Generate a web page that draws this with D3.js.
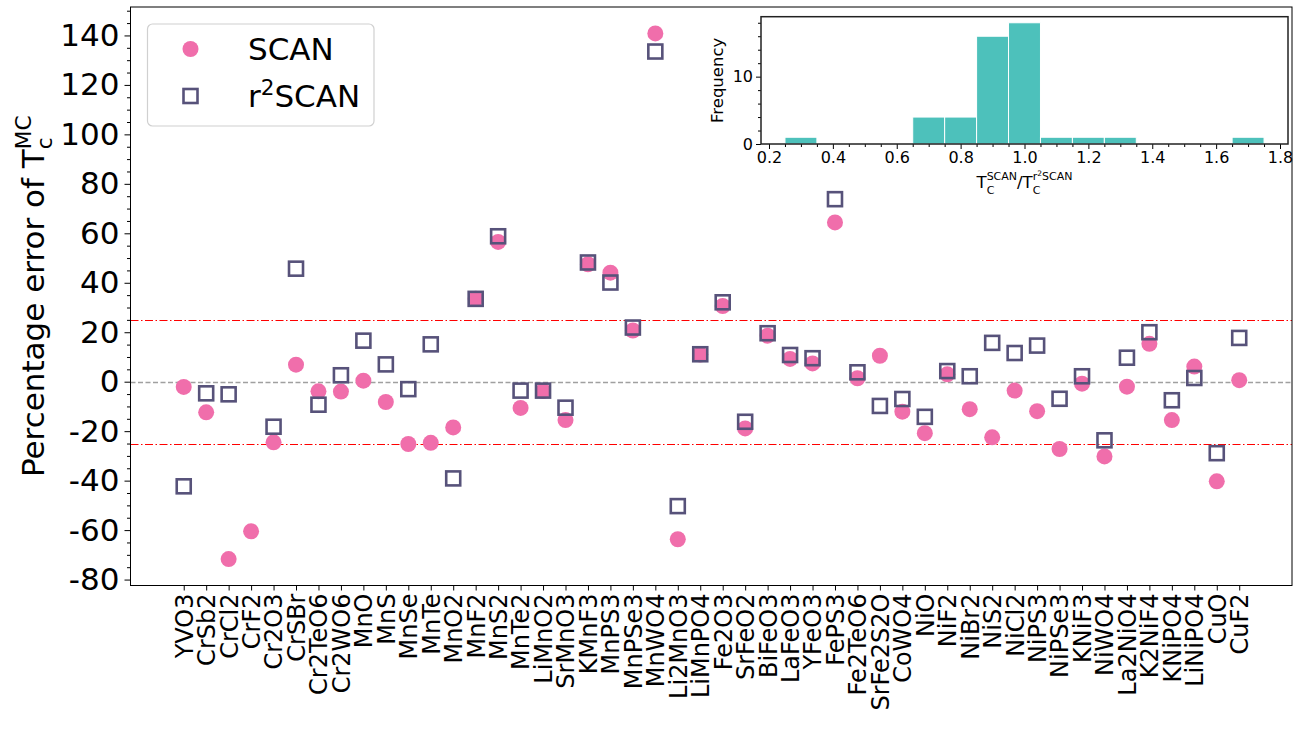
<!DOCTYPE html>
<html>
<head>
<meta charset="utf-8">
<script src="https://cdn.jsdelivr.net/npm/d3@7"></script>
<style>
  html, body { margin: 0; padding: 0; background: #fff; }
  svg { display: block; font-family: "DejaVu Sans", sans-serif; }
</style>
</head>
<body>
<svg id="chart" width="1306" height="733"></svg>
<script>
// ---------------- data ----------------
const categories = ["YVO3","CrSb2","CrCl2","CrF2","Cr2O3","CrSBr","Cr2TeO6","Cr2WO6","MnO","MnS","MnSe","MnTe",
  "MnO2","MnF2","MnS2","MnTe2","LiMnO2","SrMnO3","KMnF3","MnPS3","MnPSe3","MnWO4","Li2MnO3","LiMnPO4",
  "Fe2O3","SrFeO2","BiFeO3","LaFeO3","YFeO3","FePS3","Fe2TeO6","SrFe2S2O","CoWO4","NiO","NiF2","NiBr2",
  "NiS2","NiCl2","NiPS3","NiPSe3","KNiF3","NiWO4","La2NiO4","K2NiF4","KNiPO4","LiNiPO4","CuO","CuF2"];
const scanErr = [-2.1,-12.4,-71.7,-60.5,-24.5,6.9,-3.9,-4.0,0.4,-8.2,-25.2,-24.7,
  -18.5,33.5,56.5,-10.6,-3.8,-15.5,47.5,44.1,20.7,140.8,-63.7,11.0,
  30.6,-18.9,18.6,9.2,7.4,64.4,1.4,10.5,-12.1,-20.8,3.0,-11.1,
  -22.5,-3.6,-11.9,-27.2,-0.8,-30.2,-2.0,15.3,-15.5,6.1,-40.3,0.6];
const r2scanErr = [-42.3,-4.7,-5.1,null,-18.2,45.7,-9.3,2.6,16.6,7.0,-3.0,15.1,
  -39.1,33.5,58.8,-3.6,-3.6,-10.5,48.2,40.1,21.9,133.5,-50.3,11.1,
  32.1,-16.2,19.6,10.8,9.5,73.8,3.8,-9.8,-7.0,-14.2,4.3,2.2,
  15.7,11.6,14.6,-6.9,2.2,-23.7,9.7,20.0,-7.5,1.5,-28.9,17.7];
const yTicks = [-80,-60,-40,-20,0,20,40,60,80,100,120,140];
const thresholds = [25, -25];
// inset histogram of T_C(SCAN)/T_C(r2SCAN)
const histBinStart = [0.25,0.35,0.45,0.55,0.65,0.75,0.85,0.95,1.05,1.15,1.25,1.35,1.45,1.55,1.65];
const histCounts   = [1,0,0,0,4,4,16,18,1,1,1,0,0,0,1];
const histBinWidth = 0.1;
const insetXTicks = [0.2,0.4,0.6,0.8,1.0,1.2,1.4,1.6,1.8];
const insetYTicks = [0,10];

// ---------------- layout ----------------
const FONT = "DejaVu Sans";
const svg = d3.select("#chart");
const M = {left: 130.5, right: 1292, top: 7, bottom: 585.5};
const pinkColor = "#f06eab";
const squareColor = "#57527a";

const x = d3.scaleLinear().domain([-2.37, categories.length - 1 + 2.35]).range([M.left, M.right]);
const y = d3.scaleLinear().domain([-82.4, 151.5]).range([M.bottom, M.top]);

// reference lines
const g = svg.append("g");
g.append("line").attr("x1", M.left).attr("x2", M.right).attr("y1", Math.round(y(0)) + 0.5).attr("y2", Math.round(y(0)) + 0.5)
  .attr("stroke", "#a0a0a0").attr("stroke-width", 1.4).attr("stroke-dasharray", "5,2.5");
g.selectAll("line.thr").data(thresholds).join("line").attr("class","thr")
  .attr("x1", M.left).attr("x2", M.right)
  .attr("y1", d => Math.round(y(d)) + 0.5).attr("y2", d => Math.round(y(d)) + 0.5)
  .attr("stroke", "red").attr("stroke-width", 1.2).attr("stroke-dasharray", "8,2.5,1.5,2.5");

// circles (SCAN)
g.selectAll("circle.scan").data(scanErr.map((v,i)=>({v,i}))).join("circle").attr("class","scan")
  .attr("cx", d => x(d.i)).attr("cy", d => y(d.v)).attr("r", 8).attr("fill", pinkColor);
// squares (r2SCAN)
const sq = 14;
g.selectAll("rect.r2").data(r2scanErr.map((v,i)=>({v,i})).filter(d => d.v !== null)).join("rect").attr("class","r2")
  .attr("x", d => x(d.i) - sq/2).attr("y", d => y(d.v) - sq/2).attr("width", sq).attr("height", sq)
  .attr("fill", "none").attr("stroke", squareColor).attr("stroke-width", 2.6);

// axes
const xAxis = d3.axisBottom(x).tickValues(d3.range(categories.length)).tickFormat(i => categories[i]).tickSize(5).tickSizeOuter(0);
const gx = svg.append("g").attr("transform", `translate(0,${M.bottom})`).call(xAxis).attr("font-family", FONT);
gx.select(".domain").remove();
gx.selectAll(".tick line").attr("stroke", "#000").attr("stroke-width", 1);
gx.selectAll(".tick text").attr("font-size", 24).attr("fill", "#000")
  .attr("text-anchor", "end").attr("transform", "rotate(-90)")
  .attr("x", -8).attr("y", 0).attr("dy", "0.35em");

const yMinor = d3.range(-80, 151, 5).filter(v => v % 20 !== 0);
const gyMinor = svg.append("g").attr("transform", `translate(${M.left},0)`)
  .call(d3.axisLeft(y).tickValues(yMinor).tickSize(3.5).tickFormat(""));
gyMinor.select(".domain").remove();
gyMinor.selectAll(".tick line").attr("stroke", "#000");
const gy = svg.append("g").attr("transform", `translate(${M.left},0)`)
  .call(d3.axisLeft(y).tickValues(yTicks).tickSize(6).tickPadding(5).tickFormat(d => d < 0 ? "-" + Math.abs(d) : d))
  .attr("font-family", FONT);
gy.select(".domain").remove();
gy.selectAll(".tick line").attr("stroke", "#000");
gy.selectAll(".tick text").attr("font-size", 31).attr("fill", "#000");

// frame
svg.append("rect").attr("x", M.left).attr("y", M.top).attr("width", M.right - M.left).attr("height", M.bottom - M.top)
  .attr("fill", "none").attr("stroke", "#000").attr("stroke-width", 1);

// helper for stacked sub/superscript (tspans)
function stacked(textSel, base, sub, sup, fs, ratio) {
  const sfs = fs * ratio;
  if (base) textSel.append("tspan").text(base);
  const ts = textSel.append("tspan").attr("font-size", sfs).attr("dy", fs * 0.25).text(sub);
  const w = ts.node().getComputedTextLength();
  textSel.append("tspan").attr("font-size", sfs).attr("dx", -w).attr("dy", -fs * 0.25 - fs * 0.42).text(sup);
  return textSel;
}

// y label
const yl = svg.append("text").attr("transform", `translate(44,${(M.top + M.bottom) / 2}) rotate(-90)`)
  .attr("text-anchor", "middle").attr("font-size", 31).attr("fill", "#000");
stacked(yl, "Percentage error of T", "c", "MC", 31, 0.7);

// legend
const lg = svg.append("g");
lg.append("rect").attr("x", 147.5).attr("y", 24).attr("width", 226.5).attr("height", 102).attr("rx", 5)
  .attr("fill", "#fff").attr("fill-opacity", 0.8).attr("stroke", "#d0d0d0").attr("stroke-width", 1.2);
lg.append("circle").attr("cx", 190.5).attr("cy", 49).attr("r", 8).attr("fill", pinkColor);
lg.append("rect").attr("x", 190.5 - sq/2).attr("y", 96 - sq/2).attr("width", sq).attr("height", sq)
  .attr("fill", "none").attr("stroke", squareColor).attr("stroke-width", 2.6);
lg.append("text").attr("x", 248).attr("y", 49).attr("dy", "0.35em").attr("font-size", 31).text("SCAN");
const l2 = lg.append("text").attr("x", 248).attr("y", 96).attr("dy", "0.35em").attr("font-size", 31);
l2.append("tspan").text("r");
l2.append("tspan").attr("font-size", 21.5).attr("dy", -12).text("2");
l2.append("tspan").attr("dy", 12).text("SCAN");

// ---------------- inset ----------------
const I = {left: 761, right: 1288, top: 16.7, bottom: 144};
const ix = d3.scaleLinear().domain([0.175, 1.825]).range([I.left, I.right]);
const iy = d3.scaleLinear().domain([0, 18.9]).range([I.bottom, I.top]);
const ig = svg.append("g");
ig.append("rect").attr("x", I.left).attr("y", I.top).attr("width", I.right - I.left).attr("height", I.bottom - I.top)
  .attr("fill", "#fff");
const bins = histBinStart.map((s, i) => ({s, c: histCounts[i]})).filter(d => d.c > 0);
ig.selectAll("rect.bar").data(bins).join("rect").attr("class", "bar")
  .attr("x", d => ix(d.s)).attr("width", d => ix(d.s + histBinWidth) - ix(d.s))
  .attr("y", d => iy(d.c)).attr("height", d => iy(0) - iy(d.c))
  .attr("fill", "#20B2AA").attr("fill-opacity", 0.8).attr("stroke", "#fff").attr("stroke-width", 1);

const ixMinor = d3.range(0.2, 1.81, 0.05).filter((v, i) => i % 4 !== 0);
const gixm = ig.append("g").attr("transform", `translate(0,${I.bottom})`)
  .call(d3.axisBottom(ix).tickValues(ixMinor).tickSize(3).tickFormat(""));
gixm.select(".domain").remove();
const gix = ig.append("g").attr("transform", `translate(0,${I.bottom})`)
  .call(d3.axisBottom(ix).tickValues(insetXTicks).tickSize(5).tickPadding(3).tickFormat(d3.format(".1f")))
  .attr("font-family", FONT);
gix.select(".domain").remove();
gix.selectAll(".tick text").attr("font-size", 16).attr("fill", "#000");
const iyMinor = [2,4,6,8,12,14,16,18];
const giym = ig.append("g").attr("transform", `translate(${I.left},0)`)
  .call(d3.axisLeft(iy).tickValues(iyMinor).tickSize(3).tickFormat(""));
giym.select(".domain").remove();
const giy = ig.append("g").attr("transform", `translate(${I.left},0)`)
  .call(d3.axisLeft(iy).tickValues(insetYTicks).tickSize(5).tickPadding(3))
  .attr("font-family", FONT);
giy.select(".domain").remove();
giy.selectAll(".tick text").attr("font-size", 16).attr("fill", "#000");
ig.selectAll(".tick line").attr("stroke", "#000");
ig.append("rect").attr("x", I.left).attr("y", I.top).attr("width", I.right - I.left).attr("height", I.bottom - I.top)
  .attr("fill", "none").attr("stroke", "#222").attr("stroke-width", 1.5);

ig.append("text")
  .attr("transform", `translate(${I.left - 44},${(I.top + I.bottom) / 2}) rotate(-90)`)
  .attr("text-anchor", "middle").attr("dy", "0.35em").style("font-size", "16.5px").text("Frequency");

// inset x label  T_C^{SCAN} / T_C^{r^2 SCAN}, laid out as separate pieces
function measure(str, size) {
  const t = svg.append("text").attr("font-size", size).text(str);
  const w = t.node().getComputedTextLength();
  t.remove();
  return w;
}
const BF = 16.5, SF = 11, TF = 7.5;
const baseY = 188, subY = baseY + 5.5, supY = baseY - 8.5;
const wT = measure("T", BF), wSlashT = measure("/T", BF);
const wC = measure("C", SF), wSCAN = measure("SCAN", SF), wr = measure("r", SF), w2 = measure("2", TF);
const stack1 = Math.max(wC, wSCAN), stack2 = Math.max(wC, wr + w2 + wSCAN);
const totalW = wT + stack1 + wSlashT + stack2;
let cx0 = (I.left + I.right) / 2 - totalW / 2;
const lab = ig.append("g").attr("fill", "#000");
lab.append("text").attr("x", cx0).attr("y", baseY).attr("font-size", BF).text("T");
cx0 += wT;
lab.append("text").attr("x", cx0).attr("y", subY).attr("font-size", SF).text("C");
lab.append("text").attr("x", cx0).attr("y", supY).attr("font-size", SF).text("SCAN");
cx0 += stack1;
lab.append("text").attr("x", cx0).attr("y", baseY).attr("font-size", BF).text("/T");
cx0 += wSlashT;
lab.append("text").attr("x", cx0).attr("y", subY).attr("font-size", SF).text("C");
const sup2 = lab.append("text").attr("x", cx0).attr("y", supY).attr("font-size", SF);
sup2.append("tspan").text("r");
sup2.append("tspan").attr("font-size", TF).attr("dy", -3.5).text("2");
sup2.append("tspan").attr("dy", 3.5).text("SCAN");
</script>
</body>
</html>
